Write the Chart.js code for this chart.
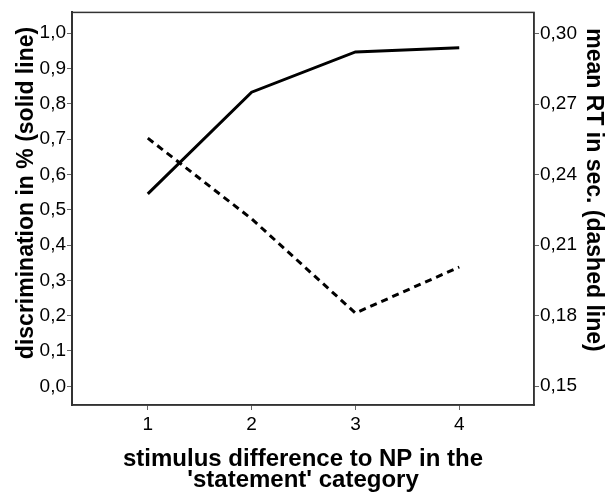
<!DOCTYPE html>
<html>
<head>
<meta charset="utf-8">
<script src="https://cdn.jsdelivr.net/npm/chart.js@4.4.1/dist/chart.umd.min.js"></script>
<style>
  body { margin: 0; background: #fff; }
</style>
</head>
<body>
<canvas id="chart" width="609" height="492"></canvas>
<script>
// stimulus difference categories
const categories = [1, 2, 3, 4];
// discrimination (solid line, left axis)
const discrimination = [0.545, 0.833, 0.947, 0.959];
// mean RT in sec (dashed line, right axis)
const meanRT = [0.2555, 0.2212, 0.1811, 0.2007];

const leftTicks = [0, 0.1, 0.2, 0.3, 0.4, 0.5, 0.6, 0.7, 0.8, 0.9, 1.0];
const rightTicks = [0.15, 0.18, 0.21, 0.24, 0.27, 0.30];

const leftTitle = 'discrimination in % (solid line)';
const rightTitle = 'mean RT in sec. (dashed line)';

const FONT = "'Liberation Sans', Arial, sans-serif";

// box round the plot area plus the two side titles (sit a bit above centre in the original)
const frame = {
    id: 'frame',
    afterDraw(chart) {
        const a = chart.chartArea;
        const ctx = chart.ctx;
        ctx.save();
        ctx.strokeStyle = '#333';
        ctx.lineWidth = 1.5;
        ctx.strokeRect(a.left, a.top, a.right - a.left, a.bottom - a.top);

        ctx.fillStyle = '#000';
        ctx.font = 'bold 23px ' + FONT;
        ctx.textAlign = 'center';
        ctx.textBaseline = 'middle';

        ctx.translate(27, 193);
        ctx.rotate(-Math.PI / 2);
        ctx.fillText(leftTitle, 0, 0);
        ctx.setTransform(1, 0, 0, 1, 0, 0);

        ctx.translate(593, 190);
        ctx.rotate(Math.PI / 2);
        ctx.fillText(rightTitle, 0, 0);
        ctx.restore();
    }
};

function fixTicks(list) {
    return scale => { scale.ticks = list.map(v => ({ value: v })); };
}

const ctx = document.getElementById('chart').getContext('2d');
new Chart(ctx, {
    type: 'line',
    data: {
        datasets: [{
            label: 'discrimination',
            data: categories.map((c, i) => ({ x: c, y: discrimination[i] })),
            borderColor: '#000',
            borderWidth: 3,
            pointRadius: 0,
            tension: 0,
            yAxisID: 'y'
        }, {
            label: 'mean RT',
            data: categories.map((c, i) => ({ x: c, y: meanRT[i] })),
            borderColor: '#000',
            borderWidth: 3,
            borderDash: [7, 5],
            pointRadius: 0,
            tension: 0,
            yAxisID: 'y2'
        }]
    },
    options: {
        responsive: false,
        animation: false,
        layout: { padding: { top: 7, left: 0, right: 0, bottom: 0 } },
        plugins: { legend: { display: false }, tooltip: { enabled: false } },
        scales: {
            x: {
                type: 'linear',
                min: 0.27,
                max: 4.72,
                afterBuildTicks: fixTicks(categories),
                afterFit: s => { s.height = 87; },
                grid: { drawOnChartArea: false, tickLength: 5, color: '#666' },
                border: { color: '#333', width: 1.5 },
                ticks: { color: '#000', font: { family: FONT, size: 19 }, padding: 3 },
                title: {
                    display: true,
                    text: ['stimulus difference to NP in the', "'statement' category"],
                    color: '#000',
                    font: { family: FONT, size: 24, weight: 'bold', lineHeight: 0.88 },
                    padding: { top: 0, bottom: 1 }
                }
            },
            y: {
                position: 'left',
                min: -0.053,
                max: 1.059,
                afterBuildTicks: fixTicks(leftTicks),
                afterFit: s => { s.width = 72; },
                grid: { drawOnChartArea: false, tickLength: 5, color: '#666' },
                border: { color: '#333', width: 2 },
                ticks: {
                    color: '#000', font: { family: FONT, size: 19 }, padding: 1,
                    callback: v => v.toFixed(1).replace('.', ',')
                }
            },
            y2: {
                position: 'right',
                min: 0.142,
                max: 0.309,
                afterBuildTicks: fixTicks(rightTicks),
                afterFit: s => { s.width = 75; },
                grid: { drawOnChartArea: false, tickLength: 5, color: '#666' },
                border: { color: '#333', width: 1.5 },
                ticks: {
                    color: '#000', font: { family: FONT, size: 19 }, padding: 1,
                    callback: v => v.toFixed(2).replace('.', ',')
                }
            }
        }
    },
    plugins: [frame]
});
</script>
</body>
</html>
